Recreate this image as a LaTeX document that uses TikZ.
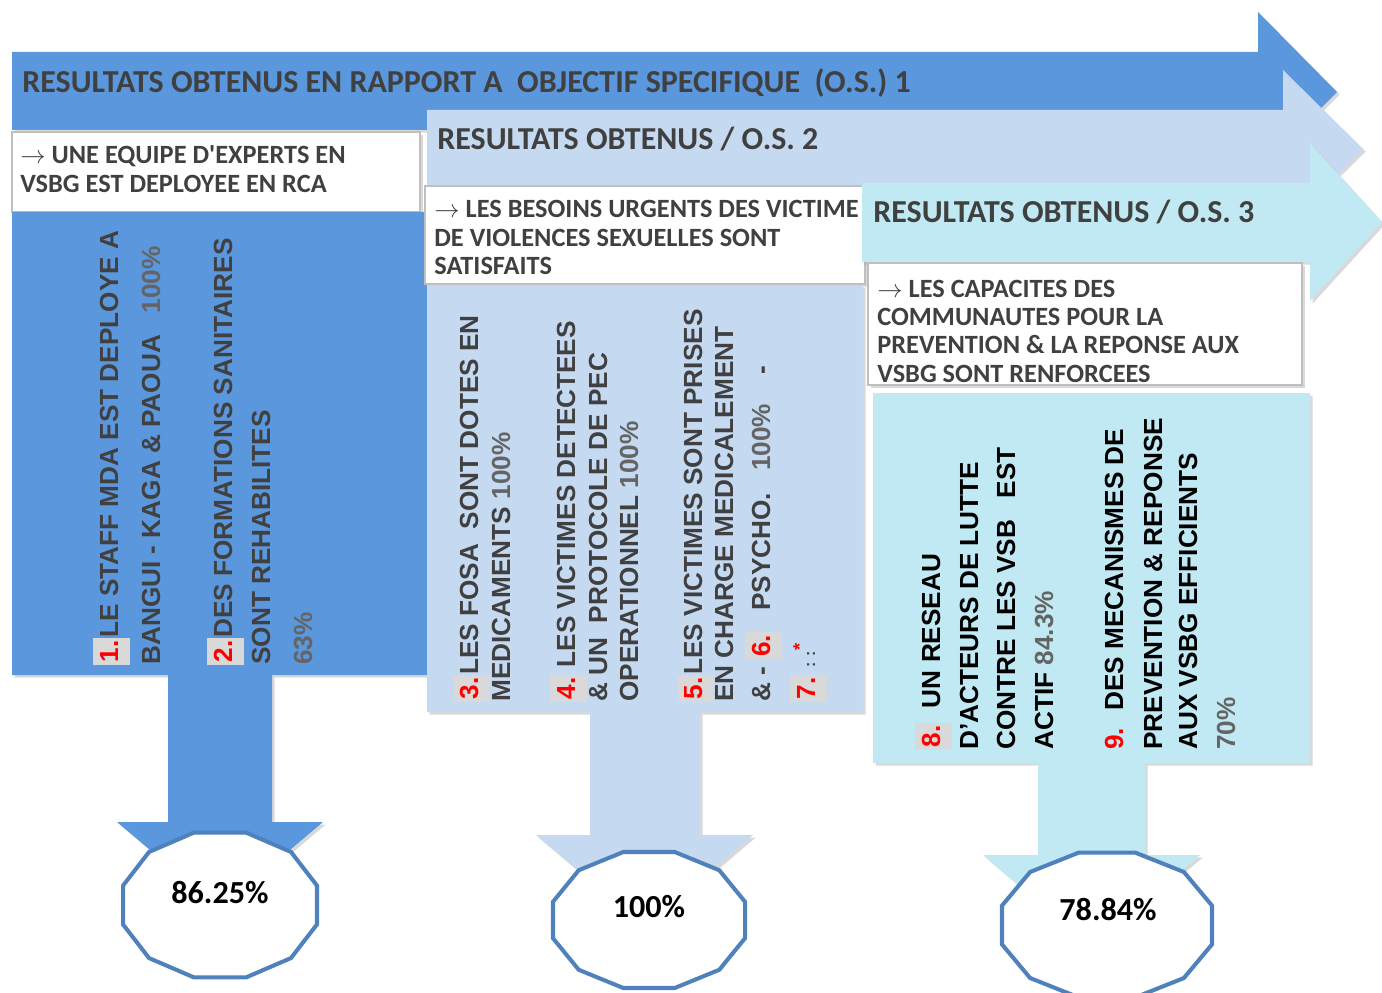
\documentclass[tikz,border=0pt]{standalone}
\usepackage{fontspec}
\setmainfont{Carlito}
\newfontfamily\arialbf{Liberation Sans}
\usetikzlibrary{shadows}
\definecolor{osone}{RGB}{91,151,221}
\definecolor{ostwo}{RGB}{197,217,241}
\definecolor{osthree}{RGB}{193,233,243}
\definecolor{ringblue}{RGB}{79,129,189}
\definecolor{txtgray}{RGB}{64,64,64}
\definecolor{pctgray}{RGB}{100,100,100}
\definecolor{hlgray}{RGB}{217,217,217}
\newcommand{\hlnum}[1]{{\setlength{\fboxsep}{1.5pt}\colorbox{hlgray}{\strut\textcolor{red}{#1}}}}
\newcommand{\pct}[1]{\textcolor{pctgray}{#1}}
\begin{document}
\begin{tikzpicture}[x=0.02cm,y=-0.02cm,
	shp/.style={drop shadow={opacity=.3,shadow xshift=1.5pt,shadow yshift=-1.5pt}},
	wbox/.style={fill=white,draw=black!25,line width=.6pt,shp},
	ring/.style={draw=ringblue,line width=2.3pt,fill=white},
	hd/.style={anchor=base west,inner sep=0pt,text=txtgray,font=\fontsize{18.2pt}{20pt}\selectfont\bfseries},
	nt/.style={anchor=base west,inner sep=0pt,text=txtgray,font=\fontsize{15pt}{17pt}\selectfont\bfseries},
	vt/.style={anchor=base west,inner sep=0pt,rotate=90,text=txtgray,font=\arialbf\fontsize{14.9pt}{18pt}\selectfont\bfseries},
	res/.style={inner sep=0pt,text=black,font=\fontsize{18.3pt}{20pt}\selectfont\bfseries}]
	\useasboundingbox (0,0) rectangle (1382,993);
	% O.S. 1
	\fill[osone,shp] (12,52) -- (1258,52) -- (1258,12) -- (1337,92) -- (1258,171) -- (1258,130) -- (12,130) -- cycle;
	\filldraw[wbox] (12,132) rectangle (420,212);
	\fill[osone,shp] (12,212) -- (427,212) -- (427,675) -- (272,675) -- (272,822) -- (323,822) -- (220,909)
		-- (117,822) -- (168,822) -- (168,675) -- (12,675) -- cycle;
	\node[hd] (os1) at (22,93)
		{RESULTATS OBTENUS EN RAPPORT A~ OBJECTIF SPECIFIQUE~ (O.S.) 1};
	\node[nt] (r1a) at (20,164) {$\rightarrow$ UNE EQUIPE D\textquotesingle EXPERTS EN};
	\node[nt] (r1b) at (20,193) {VSBG EST DEPLOYEE EN RCA};
	\node[vt] (i1a) at (118,665) {\hlnum{1.}LE STAFF MDA EST DEPLOYE A};
	\node[vt] (i1b) at (160,665) {BANGUI - KAGA \& PAOUA~~ \pct{100\%}};
	\node[vt] (i2a) at (232,665) {\hlnum{2.}DES FORMATIONS SANITAIRES};
	\node[vt] (i2b) at (270,665) {SONT REHABILITES};
	\node[vt] (i2c) at (312,665) {\pct{63\%}};
	% O.S. 2
	\fill[ostwo,shp] (427,110) -- (1283,110) -- (1283,70) -- (1363,149) -- (1283,228) -- (1283,186) -- (427,186) -- cycle;
	\filldraw[wbox] (425,186) rectangle (865,284);
	\fill[ostwo,shp] (427,285) -- (863,285) -- (863,712) -- (700,712) -- (700,835) -- (753,835) -- (645,927)
		-- (536,835) -- (590,835) -- (590,712) -- (427,712) -- cycle;
	\node[hd] (os2) at (437,150) {RESULTATS OBTENUS / O.S. 2};
	\node[nt] (r2a) at (434,217) {$\rightarrow$ LES BESOINS URGENTS DES VICTIME};
	\node[nt] (r2b) at (434,247) {DE VIOLENCES SEXUELLES SONT};
	\node[nt] (r2c) at (434,275) {SATISFAITS};
	\node[vt] (i3a) at (478,702) {\hlnum{3.}LES FOSA~ SONT DOTES EN};
	\node[vt] (i3b) at (510,702) {MEDICAMENTS \pct{100\%}};
	\node[vt] (i4a) at (575,702) {\hlnum{4.} LES VICTIMES DETECTEES};
	\node[vt] (i4b) at (607,702) {\& UN~ PROTOCOLE DE PEC};
	\node[vt] (i4c) at (638,702) {OPERATIONNEL \pct{100\%}};
	\node[vt] (i5a) at (702,702) {\hlnum{5.}LES VICTIMES SONT PRISES};
	\node[vt] (i5b) at (733,702) {EN CHARGE MEDICALEMENT};
	\node[vt] (i6a) at (770,702) {\& - \hlnum{6.}~~ PSYCHO.~~ \pct{100\%}~~~ -};
	\node[vt] (i7a) at (815,702) {\hlnum{7.} {\small: :}\textsuperscript{\textcolor{red}{*}}};
	% O.S. 3
	\fill[osthree,shp] (862,183) -- (1310,183) -- (1310,143) -- (1382,222) -- (1310,301) -- (1310,262) -- (862,262) -- cycle;
	\filldraw[wbox] (868,263) rectangle (1302,385);
	\fill[osthree,shp] (873,393) -- (1310,393) -- (1310,763) -- (1145,763) -- (1145,855) -- (1200,855) -- (1091,947)
		-- (983,855) -- (1038,855) -- (1038,763) -- (873,763) -- cycle;
	\node[hd] (os3) at (873,223) {RESULTATS OBTENUS / O.S. 3};
	\node[nt] (r3a) at (877,297) {$\rightarrow$ LES CAPACITES DES};
	\node[nt] (r3b) at (877,325) {COMMUNAUTES POUR LA};
	\node[nt] (r3c) at (877,353) {PREVENTION \& LA REPONSE AUX};
	\node[nt] (r3d) at (877,382) {VSBG SONT RENFORCEES};
	\node[vt,text=black] (i8a) at (940,750) {\hlnum{8.}~ UN RESEAU};
	\node[vt,text=black] (i8b) at (978,750) {D’ACTEURS DE LUTTE};
	\node[vt,text=black] (i8c) at (1015,750) {CONTRE LES VSB~~ EST};
	\node[vt,text=black] (i8d) at (1053,750) {ACTIF \pct{84.3\%}};
	\node[vt,text=black] (i9a) at (1123,750) {\textcolor{red}{9.}~ DES MECANISMES DE};
	\node[vt,text=black] (i9b) at (1162,750) {PREVENTION \& REPONSE};
	\node[vt,text=black] (i9c) at (1197,750) {AUX VSBG EFFICIENTS};
	\node[vt,text=black] (i9d) at (1235,750) {\pct{70\%}};
	% results
	\draw[ring] plot[samples at={15,45,...,345}] ({220+100.4*cos(\x)},{905+75*sin(\x)}) -- cycle;
	\draw[ring] plot[samples at={15,45,...,345}] ({649+99.4*cos(\x)},{920+70.4*sin(\x)}) -- cycle;
	\draw[ring] plot[samples at={15,45,...,345}] ({1107+108.7*cos(\x)},{925+75*sin(\x)}) -- cycle;
	\node[res] (t1) at (220,893) {86.25\%};
	\node[res] (t2) at (649,907) {100\%};
	\node[res] (t3) at (1108,910) {78.84\%};
\end{tikzpicture}
\end{document}
